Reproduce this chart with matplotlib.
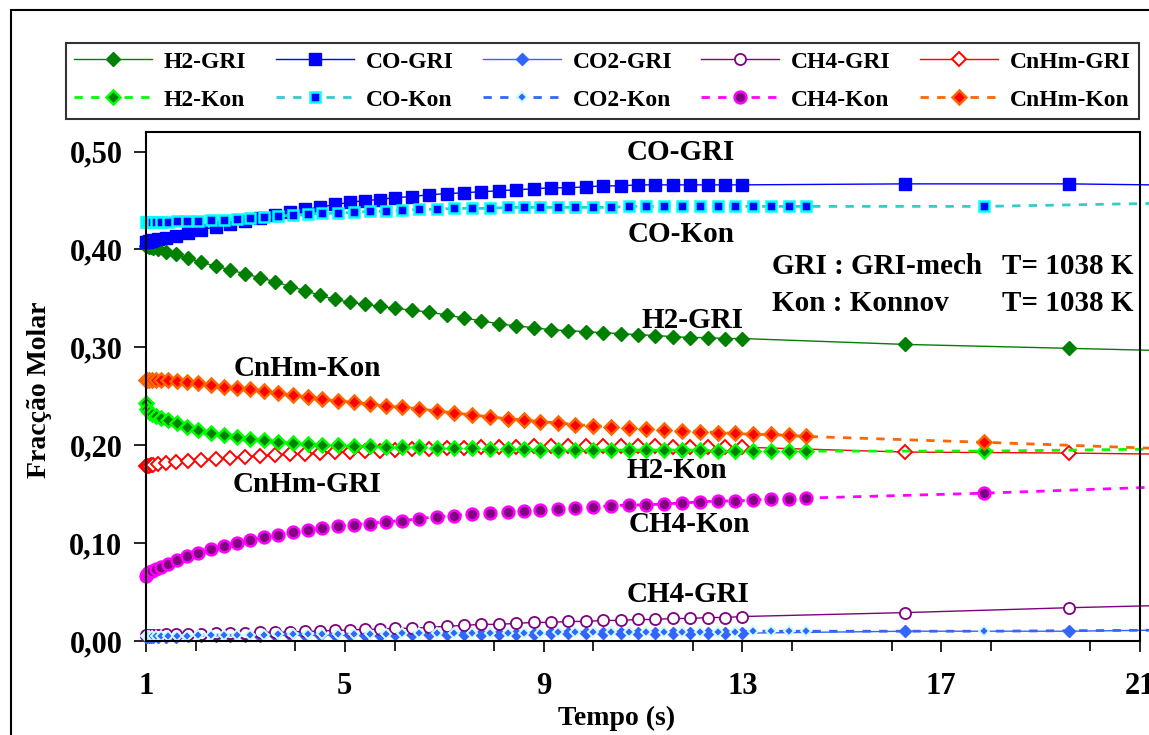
import matplotlib
matplotlib.use("Agg")
import matplotlib.pyplot as plt
from matplotlib.patches import Rectangle
from matplotlib.ticker import MultipleLocator, FuncFormatter

W, H = 1149, 735

# tempo (s) - malha GRI-mech
t_gri = [1.00, 1.03, 1.06, 1.10, 1.15, 1.25, 1.40, 1.60, 1.85, 2.10,
         2.40, 2.70, 3.00, 3.30, 3.60, 3.90, 4.20, 4.50, 4.80, 5.10,
         5.40, 5.70, 6.00, 6.35, 6.70, 7.05, 7.40, 7.75, 8.10, 8.45,
         8.80, 9.15, 9.50, 9.85, 10.20, 10.55, 10.90, 11.25, 11.60, 11.95,
         12.30, 12.65, 13.00, 16.27, 19.57, 21.2]

h2_gri = [0.404, 0.4035, 0.403, 0.4025, 0.402, 0.400, 0.397, 0.395, 0.391, 0.387,
          0.383, 0.379, 0.375, 0.371, 0.367, 0.362, 0.358, 0.353, 0.349, 0.346,
          0.344, 0.342, 0.340, 0.338, 0.336, 0.333, 0.330, 0.327, 0.324, 0.322,
          0.320, 0.318, 0.317, 0.316, 0.315, 0.314, 0.313, 0.312, 0.311, 0.310,
          0.310, 0.309, 0.309, 0.303, 0.299, 0.297]

co_gri = [0.408, 0.408, 0.409, 0.409, 0.410, 0.411, 0.412, 0.414, 0.417, 0.420,
          0.423, 0.426, 0.429, 0.432, 0.435, 0.438, 0.441, 0.443, 0.446, 0.448,
          0.450, 0.451, 0.453, 0.454, 0.456, 0.457, 0.458, 0.459, 0.460, 0.461,
          0.462, 0.463, 0.463, 0.464, 0.465, 0.465, 0.466, 0.466, 0.466, 0.466,
          0.466, 0.466, 0.466, 0.467, 0.467, 0.466]

co2_gri = [0.004, 0.004, 0.004, 0.004, 0.004, 0.004, 0.004, 0.004, 0.005, 0.005,
           0.005, 0.005, 0.005, 0.005, 0.006, 0.006, 0.006, 0.006, 0.006, 0.006,
           0.006, 0.006, 0.007, 0.007, 0.007, 0.007, 0.007, 0.007, 0.007, 0.007,
           0.007, 0.008, 0.008, 0.008, 0.008, 0.008, 0.008, 0.008, 0.008, 0.008,
           0.008, 0.008, 0.008, 0.010, 0.010, 0.011]

ch4_gri = [0.006, 0.006, 0.006, 0.006, 0.006, 0.006, 0.007, 0.007, 0.007, 0.007,
           0.008, 0.008, 0.008, 0.009, 0.009, 0.009, 0.010, 0.010, 0.011, 0.011,
           0.012, 0.012, 0.013, 0.013, 0.014, 0.015, 0.016, 0.017, 0.017, 0.018,
           0.019, 0.019, 0.020, 0.020, 0.021, 0.021, 0.022, 0.022, 0.023, 0.023,
           0.024, 0.024, 0.025, 0.029, 0.034, 0.036]

cnhm_gri = [0.179, 0.179, 0.179, 0.180, 0.180, 0.181, 0.182, 0.183, 0.184, 0.185,
            0.186, 0.187, 0.188, 0.189, 0.190, 0.191, 0.191, 0.192, 0.193, 0.193,
            0.194, 0.194, 0.195, 0.196, 0.196, 0.197, 0.197, 0.198, 0.198, 0.198,
            0.199, 0.199, 0.199, 0.199, 0.199, 0.199, 0.199, 0.199, 0.198, 0.198,
            0.198, 0.198, 0.198, 0.193, 0.192, 0.191]

# tempo (s) - malha Konnov
t_kon = [1.00, 1.03, 1.07, 1.12, 1.20, 1.30, 1.45, 1.62, 1.82, 2.05,
         2.30, 2.56, 2.83, 3.10, 3.38, 3.66, 3.95, 4.25, 4.55, 4.86,
         5.18, 5.50, 5.83, 6.16, 6.50, 6.85, 7.20, 7.56, 7.92, 8.28,
         8.60, 8.92, 9.28, 9.64, 9.99, 10.35, 10.71, 11.07, 11.42, 11.78,
         12.14, 12.50, 12.85, 13.21, 13.57, 13.93, 14.28, 17.86, 21.2]

h2_kon = [0.243, 0.237, 0.234, 0.232, 0.230, 0.228, 0.226, 0.223, 0.219, 0.216,
          0.213, 0.210, 0.208, 0.206, 0.205, 0.203, 0.202, 0.201, 0.200, 0.200,
          0.199, 0.199, 0.198, 0.198, 0.198, 0.197, 0.197, 0.197, 0.196, 0.196,
          0.196, 0.195, 0.195, 0.195, 0.195, 0.195, 0.195, 0.195, 0.195, 0.195,
          0.195, 0.194, 0.194, 0.194, 0.194, 0.194, 0.194, 0.194, 0.196]

co_kon = [0.428, 0.428, 0.428, 0.428, 0.428, 0.428, 0.428, 0.429, 0.429, 0.429,
          0.430, 0.430, 0.431, 0.432, 0.433, 0.434, 0.435, 0.436, 0.437, 0.437,
          0.438, 0.439, 0.439, 0.440, 0.441, 0.441, 0.442, 0.442, 0.442, 0.443,
          0.443, 0.443, 0.443, 0.443, 0.443, 0.443, 0.444, 0.444, 0.444, 0.444,
          0.444, 0.444, 0.444, 0.444, 0.444, 0.444, 0.444, 0.444, 0.447]

co2_kon = [0.005, 0.005, 0.005, 0.005, 0.005, 0.005, 0.005, 0.005, 0.005, 0.006,
           0.006, 0.006, 0.006, 0.006, 0.006, 0.007, 0.007, 0.007, 0.007, 0.007,
           0.007, 0.007, 0.007, 0.008, 0.008, 0.008, 0.008, 0.008, 0.008, 0.008,
           0.008, 0.008, 0.009, 0.009, 0.009, 0.009, 0.009, 0.009, 0.009, 0.009,
           0.009, 0.009, 0.009, 0.010, 0.010, 0.010, 0.010, 0.010, 0.011]

ch4_kon = [0.066, 0.068, 0.070, 0.072, 0.074, 0.076, 0.079, 0.083, 0.087, 0.090,
           0.094, 0.097, 0.100, 0.103, 0.106, 0.108, 0.111, 0.113, 0.115, 0.117,
           0.119, 0.120, 0.122, 0.123, 0.125, 0.127, 0.128, 0.130, 0.131, 0.132,
           0.133, 0.134, 0.135, 0.136, 0.137, 0.138, 0.139, 0.139, 0.140, 0.141,
           0.142, 0.143, 0.143, 0.144, 0.145, 0.145, 0.146, 0.151, 0.157]

cnhm_kon = [0.267, 0.267, 0.267, 0.267, 0.267, 0.267, 0.267, 0.266, 0.265, 0.264,
            0.262, 0.260, 0.258, 0.257, 0.255, 0.253, 0.251, 0.249, 0.247, 0.245,
            0.244, 0.242, 0.240, 0.239, 0.237, 0.235, 0.233, 0.231, 0.229, 0.227,
            0.226, 0.224, 0.223, 0.221, 0.220, 0.219, 0.218, 0.217, 0.216, 0.215,
            0.214, 0.213, 0.212, 0.211, 0.211, 0.210, 0.209, 0.203, 0.197]

x_ticks = [1, 5, 9, 13, 17, 21]
y_ticks = [0.0, 0.1, 0.2, 0.3, 0.4, 0.5]

FONT = "Liberation Serif"
plt.rcParams["font.family"] = FONT
plt.rcParams["font.weight"] = "bold"

fig = plt.figure(figsize=(W / 100, H / 100), dpi=100)
ax = fig.add_axes([146 / W, 1 - 641 / H, (1140 - 146) / W, (641 - 132) / H])

dash = (0, (3, 3))
mk = dict(clip_on=False, markevery=slice(0, -1))

# GRI-mech (linha cheia)
ax.plot(t_gri, h2_gri, color="#008000", lw=1.0, marker="D", ms=7,
        mfc="#008000", mec="#008000", label="H2-GRI", **mk)
ax.plot(t_gri, co_gri, color="#0000FF", lw=1.0, marker="s", ms=8.5,
        mfc="#0000FF", mec="#0000FF", label="CO-GRI", **mk)
ax.plot(t_gri, co2_gri, color="#3366FF", lw=1.0, marker="D", ms=6.5,
        mfc="#3366FF", mec="#3366FF", label="CO2-GRI", **mk)
ax.plot(t_gri, ch4_gri, color="#800080", lw=1.0, marker="o", ms=8,
        mfc="white", mec="#800080", mew=1.3, label="CH4-GRI", **mk)
ax.plot(t_gri, cnhm_gri, color="#FF0000", lw=1.0, marker="D", ms=7,
        mfc="white", mec="#FF0000", mew=1.4, label="CnHm-GRI", **mk)

# Konnov (tracejado)
ax.plot(t_kon, h2_kon, color="#00FF00", lw=2, ls=dash, marker="D", ms=7,
        mfc="#008000", mec="#00FF00", mew=1.8, label="H2-Kon", **mk)
ax.plot(t_kon, co_kon, color="#33CCCC", lw=2, ls=dash, marker="s", ms=7.5,
        mfc="#0000FF", mec="#00FFFF", mew=1.8, label="CO-Kon", **mk)
ax.plot(t_kon, co2_kon, color="#3366FF", lw=2, ls=dash, marker="D", ms=5.5,
        mfc="#3366FF", mec="#CCFFFF", mew=1.4, label="CO2-Kon", **mk)
ax.plot(t_kon, ch4_kon, color="#FF00FF", lw=2, ls=dash, marker="o", ms=8.5,
        mfc="#800080", mec="#FF00FF", mew=1.8, label="CH4-Kon", **mk)
ax.plot(t_kon, cnhm_kon, color="#FF6600", lw=2, ls=dash, marker="D", ms=7,
        mfc="#FF0000", mec="#FF6600", mew=1.8, label="CnHm-Kon", **mk)

ax.set_xlim(1, 21)
ax.set_ylim(0, 0.52)
ax.set_xticks(x_ticks)
ax.xaxis.set_minor_locator(MultipleLocator(2))
ax.set_yticks(y_ticks)
ax.yaxis.set_major_formatter(FuncFormatter(lambda v, p: f"{v:.2f}".replace(".", ",")))
ax.tick_params(axis="x", which="major", direction="out", length=8, width=1.2,
               pad=14, labelsize=22)
ax.tick_params(axis="x", which="minor", direction="out", length=7, width=1.2)
ax.tick_params(axis="y", direction="out", length=9, width=1.2, pad=8, labelsize=22)
for lab in ax.get_xticklabels() + ax.get_yticklabels():
    lab.set_fontweight("bold")
for sp in ax.spines.values():
    sp.set_linewidth(1.5)
    sp.set_color("black")

fig.text(617 / W, 1 - 718 / H, "Tempo (s)", ha="center", va="center",
         fontsize=20, fontweight="bold")
fig.text(40 / W, 1 - 390 / H, "Fracção Molar", ha="center", va="center",
         rotation=90, fontsize=20, fontweight="bold")

# rótulos das curvas
labels = [("CO-GRI", 681, 153), ("CO-Kon", 681, 234), ("H2-GRI", 692, 320),
          ("CnHm-Kon", 307, 368), ("H2-Kon", 677, 470), ("CnHm-GRI", 307, 484),
          ("CH4-Kon", 689, 525), ("CH4-GRI", 688, 594)]
for txt, px, py in labels:
    fig.text(px / W, 1 - py / H, txt, ha="center", va="center",
             fontsize=21, fontweight="bold")

fig.text(772 / W, 1 - 267 / H, "GRI : GRI-mech", ha="left", va="center",
         fontsize=21, fontweight="bold")
fig.text(1134 / W, 1 - 267 / H, "T= 1038 K", ha="right", va="center",
         fontsize=21, fontweight="bold")
fig.text(772 / W, 1 - 303 / H, "Kon : Konnov", ha="left", va="center",
         fontsize=21, fontweight="bold")
fig.text(1134 / W, 1 - 303 / H, "T= 1038 K", ha="right", va="center",
         fontsize=21, fontweight="bold")

handles, names = ax.get_legend_handles_labels()
order = [0, 5, 1, 6, 2, 7, 3, 8, 4, 9]
leg = fig.legend([handles[i] for i in order], [names[i] for i in order],
                 ncol=5, loc="lower left", mode="expand",
                 bbox_to_anchor=(66 / W, 1 - 119 / H, (1139 - 66) / W, 76 / H),
                 borderaxespad=0, fancybox=False, edgecolor="black",
                 handlelength=3.3, labelspacing=0.7, columnspacing=0.6,
                 handletextpad=0.5, borderpad=0.35,
                 prop={"family": FONT, "weight": "bold", "size": 17})
leg.get_frame().set_linewidth(1.5)

# moldura externa
fig.patches.append(Rectangle((11 / W, -0.05), 1.2, 1 - 10 / H + 0.05,
                             transform=fig.transFigure, fill=False,
                             edgecolor="black", lw=1.5))

fig.savefig("out.png", dpi=100)
